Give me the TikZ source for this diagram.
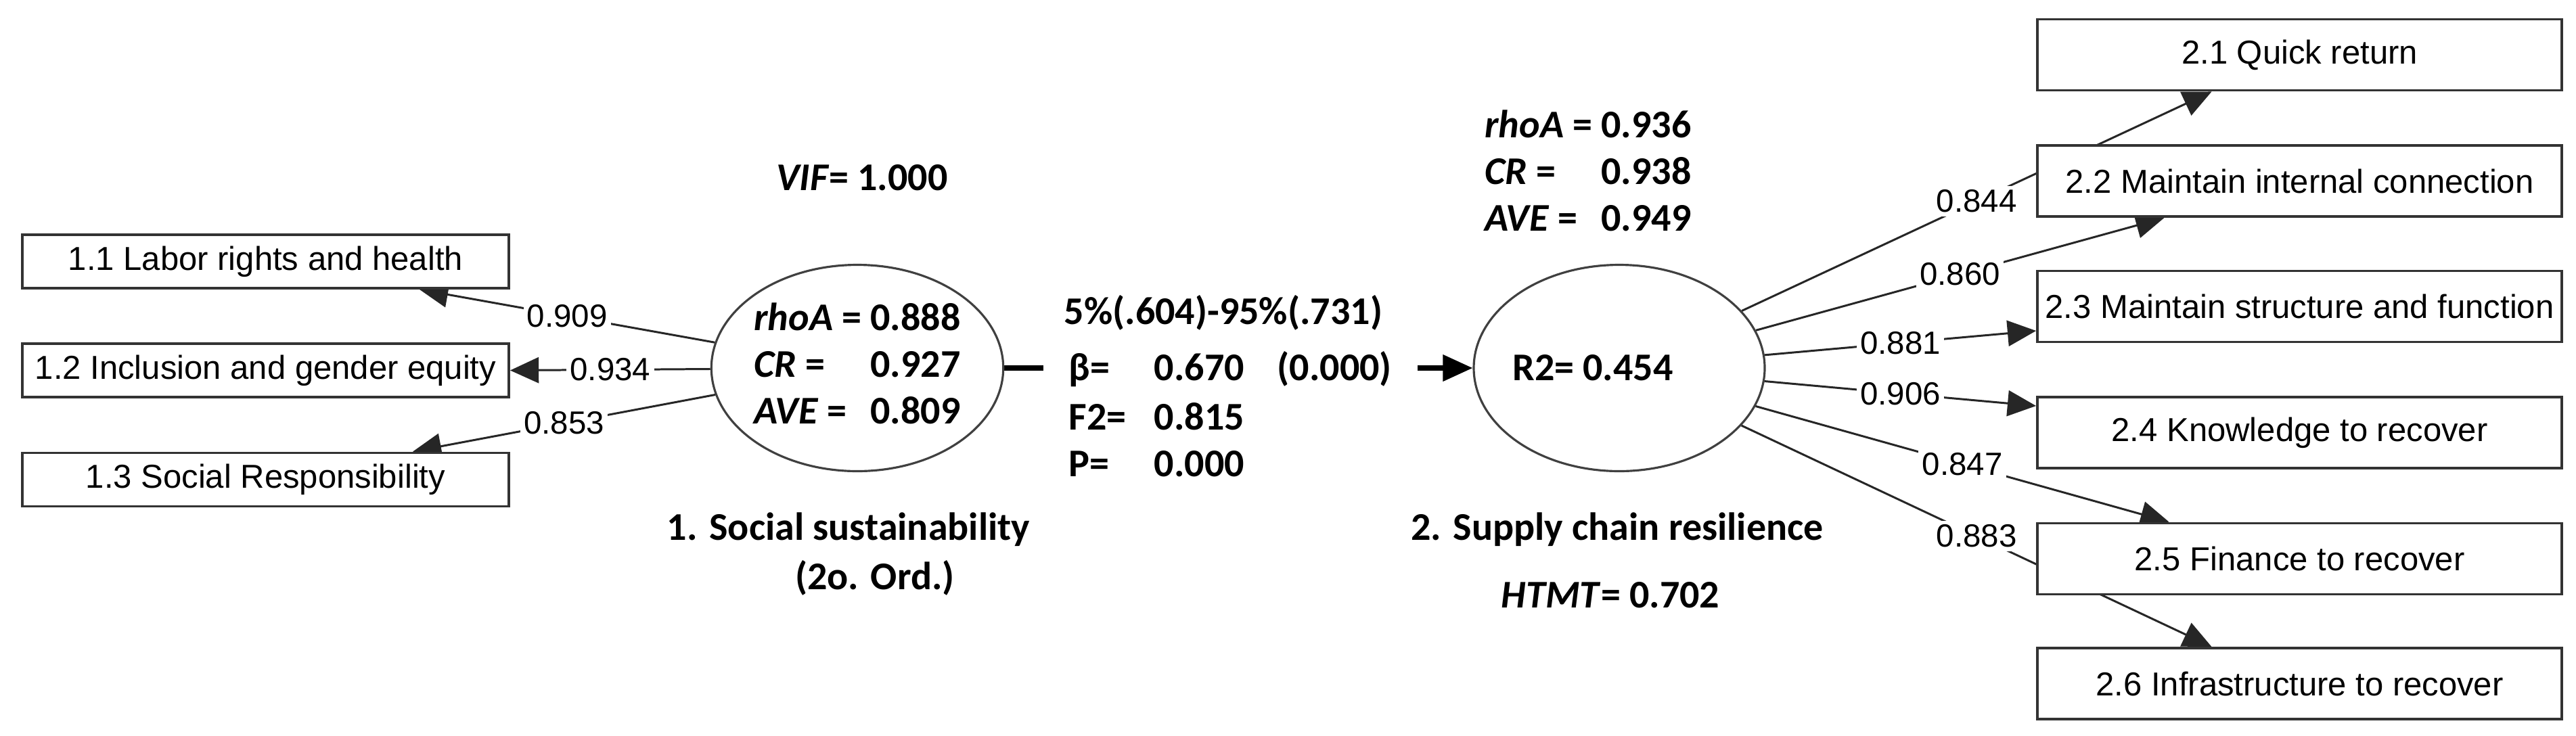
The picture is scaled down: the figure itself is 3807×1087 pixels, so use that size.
\documentclass[tikz,border=0pt]{standalone}
\usepackage{fontspec}
\setmainfont{Liberation Sans}
\newfontfamily\calfont{Carlito}
\usetikzlibrary{shapes.geometric,arrows.meta,calc}
\pgfdeclarelayer{bgl}
\pgfsetlayers{bgl,main}
\newlength{\px}\setlength{\px}{0.01cm}
\newcommand\bxfont{\fontsize{13.94}{16}\selectfont}
\newcommand\cofont{\fontsize{13.5}{15}\selectfont}
\newcommand\stfont{\calfont\bfseries\fontsize{16.5}{19.6}\selectfont}
\newcommand\stattab[3]{\begin{tabular}{@{}l@{\ }r@{}}\textit{rhoA} =&#1\\\textit{CR} =&#2\\\textit{AVE} =&#3\end{tabular}}
\begin{document}
\begin{tikzpicture}[x=0.01cm,y=-0.01cm,
  bx/.style={draw=black!80, line width=1.1pt, fill=white, minimum width=719\px, minimum height=79\px, inner sep=0pt, font=\bxfont},
  rbx/.style={bx, minimum width=775\px, minimum height=105\px},
  lv/.style={shape=ellipse, draw=black!75, line width=0.9pt, fill=white, minimum width=430\px, minimum height=305\px, inner sep=0pt, font=\stfont},
  con/.style={draw=black!85, line width=0.85pt, -{Triangle[length=12pt,width=10.8pt]}},
  lab/.style={pos=0.5, fill=white, inner sep=1.5pt, font=\cofont},
  st/.style={font=\stfont, inner sep=0pt},
  thk/.style={draw=black, line width=2pt, -{Triangle[length=12.5pt,width=10.8pt]}}]
\useasboundingbox (0,0) rectangle (3807,1087);
\begin{pgfonlayer}{bgl}
\fill[white] (0,0) rectangle (3807,1087);
\end{pgfonlayer}
% indicator boxes
\node[bx] (b11) at (392.5,386.5) {1.1 Labor rights and health};
\node[bx] (b12) at (392.5,547.5) {1.2 Inclusion and gender equity};
\node[bx] (b13) at (392.5,709) {1.3 Social Responsibility};
\node[rbx] (b21) at (3398.5,81) {2.1 Quick return};
\node[rbx] (b22) at (3398.5,267.5) {2.2 Maintain internal connection};
\node[rbx] (b23) at (3398.5,453) {2.3 Maintain structure and function};
\node[rbx] (b24) at (3398.5,639.5) {2.4 Knowledge to recover};
\node[rbx] (b25) at (3398.5,826) {2.5 Finance to recover};
\node[rbx] (b26) at (3398.5,1010.5) {2.6 Infrastructure to recover};
% latent variables
\node[lv] (e1) at (1267,544) {\stattab{0.888}{0.927}{0.809}};
\node[lv] (e2) at (2393,544) {};
\node[st, anchor=base] (r2) at (2354,562) {R2= 0.454};
\node[st] (s2) at (2347,259) {\stattab{0.936}{0.938}{0.949}};
\node[st, anchor=base] (vif) at (1274,281) {\textit{VIF}= 1.000};
\node[st, anchor=base] (htmt) at (2380,898) {\textit{HTMT}= 0.702};
\node[st, anchor=base] (l1) at (1254,798) {1. Social sustainability};
\node[st, anchor=base] (l1b) at (1293,871) {(2o. Ord.)};
\node[st, anchor=base] (l2) at (2390,798) {2. Supply chain resilience};
% structural path statistics
\node[st, anchor=base west] (ci) at (1572,479) {5\%(.604)-95\%(.731)};
\node[st, anchor=base west, fill=white, inner xsep=38\px, inner ysep=4pt] (beta) at (1541,562) {\makebox[308\px][l]{\makebox[126\px][l]{β=}0.670}(0.000)};
\node[st, anchor=base west] (f2) at (1579,635) {\makebox[126\px][l]{F2=}0.815};
\node[st, anchor=base west] (pv) at (1579,704) {\makebox[126\px][l]{P=}0.000};
\begin{pgfonlayer}{bgl}
\draw[thk] (e1) -- (e2);
\draw[con] (e1) -- ($(b11.south)+(227.5,0)$) node[lab] (c11) {0.909};
\draw[con] (e1) -- (b12.east) node[lab] (c12) {0.934};
\draw[con] (e1) -- ($(b13.north)+(217.5,0)$) node[lab] (c13) {0.853};
\draw[con] (e2) -- ($(b21.south)+(-130,0)$) node[lab] (c21) {0.844};
\draw[con] (e2) -- ($(b22.south)+(-200,0)$) node[lab] (c22) {0.860};
\draw[con] (e2) -- ($(b23.west)+(0,36)$) node[lab] (c23) {0.881};
\draw[con] (e2) -- ($(b24.west)+(0,-39.5)$) node[lab] (c24) {0.906};
\draw[con] (e2) -- ($(b25.north)+(-193,0)$) node[lab] (c25) {0.847};
\draw[con] (e2) -- ($(b26.north)+(-130,0)$) node[lab] (c26) {0.883};
\end{pgfonlayer}
\end{tikzpicture}
\end{document}
